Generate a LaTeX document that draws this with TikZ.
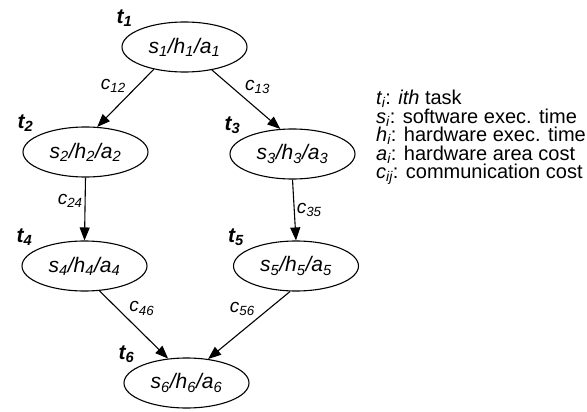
\documentclass[tikz,border=0pt]{standalone}
\usepackage{fontspec}
\setmainfont{Liberation Sans}
\usetikzlibrary{shapes.geometric,arrows.meta}

\tikzset{
  task/.style={draw,ellipse,line width=1.1pt,minimum width=125pt,minimum height=50pt,
    inner sep=0pt,font=\fontsize{21}{24}\selectfont\itshape},
  tname/.style={font=\fontsize{21}{24}\selectfont\bfseries\itshape,inner sep=0pt},
  cost/.style={font=\fontsize{19}{22}\selectfont\itshape,inner sep=2pt},
  arr/.style={line width=1.1pt,-{Triangle[length=13pt,width=10pt]}}
}
\newcommand{\shalabel}[1]{s\textsubscript{#1}/h\textsubscript{#1}/a\textsubscript{#1}}

\begin{document}
\begin{tikzpicture}[x=1pt,y=-1pt]
      \useasboundingbox (0,0) rectangle (587,412);
      \draw
        (184.5,47) node[task] (t1) {\shalabel{1}}
        (85.5,152) node[task] (t2) {\shalabel{2}}
        (292.5,154) node[task] (t3) {\shalabel{3}}
        (84.5,266) node[task] (t4) {\shalabel{4}}
        (296,266) node[task] (t5) {\shalabel{5}}
        (186.5,383) node[task] (t6) {\shalabel{6}};
      \foreach \i in {1,...,6}
        \node[tname] (n\i) at ([shift={(-60,-29)}]t\i) {t\textsubscript{\i}};
      \begin{scope}[arr]
        \draw (t1.216) to node[cost,pos=0.45,anchor=south east] (c12) {c\textsubscript{12}} (t2.65);
        \draw (t1.320) to node[cost,pos=0.45,anchor=south west] (c13) {c\textsubscript{13}} (t3.116);
        \draw (t2.south) to node[cost,pos=0.37,left] (c24) {c\textsubscript{24}} (t4.north);
        \draw (t3.south) to node[cost,pos=0.5,right] (c35) {c\textsubscript{35}} (t5.north);
        \draw (t4.301) to node[cost,pos=0.4,anchor=south west] (c46) {c\textsubscript{46}} (t6.127);
        \draw (t5.257) to node[cost,pos=0.4,anchor=south east] (c56) {c\textsubscript{56}} (t6.48);
      \end{scope}
      \node[anchor=north west,align=left,inner sep=0pt,
        font=\fontsize{20}{18.5}\selectfont] (legend) at (376,90)
        {\textit{t\textsubscript{i}}: \textit{ith} task\\
         \textit{s\textsubscript{i}}: software exec. time\\
         \textit{h\textsubscript{i}}: hardware exec. time\\
         \textit{a\textsubscript{i}}: hardware area cost\\
         \textit{c\textsubscript{ij}}: communication cost};
    \end{tikzpicture}
\end{document}
